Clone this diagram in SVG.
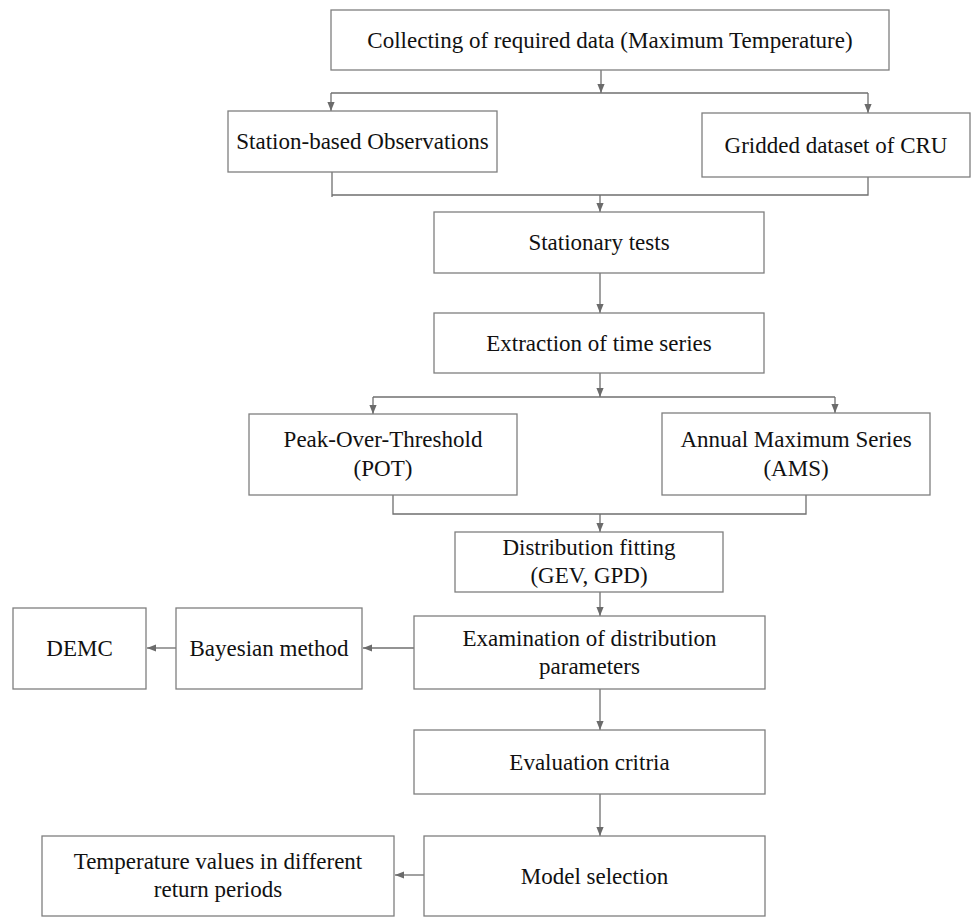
<svg xmlns="http://www.w3.org/2000/svg" width="972" height="917" viewBox="0 0 972 917">
  <defs>
    <marker id="arr" viewBox="0 0 10 8" refX="10" refY="4" markerWidth="9" markerHeight="8" markerUnits="userSpaceOnUse" orient="auto">
      <path d="M0,0 L10,4 L0,8 z" fill="#6b6b6b"/>
    </marker>
    <style>
      .box { fill: #ffffff; stroke: #7f7f7f; stroke-width: 1.3; }
      .lbl { font-family: "Liberation Serif", "Times New Roman", serif; font-size: 23px; fill: #111111; text-anchor: middle; }
      .con { fill: none; stroke: #6f6f6f; stroke-width: 1.3; }
      .arw { fill: none; stroke: #6f6f6f; stroke-width: 1.3; marker-end: url(#arr); }
    </style>
  </defs>
  <rect width="972" height="917" fill="#ffffff"/>

  <g id="connectors">
    <path class="arw" d="M601,70 V93"/>
    <path class="con" d="M331,93 H868"/>
    <path class="arw" d="M331,93 V111"/>
    <path class="arw" d="M868,93 V113"/>

    <path class="con" d="M332,172 V197"/>
    <path class="con" d="M868,177 V195 H332"/>
    <path class="arw" d="M600,195 V212"/>

    <path class="arw" d="M600,273 V313"/>
    <path class="arw" d="M600,373 V397"/>
    <path class="con" d="M373,397 H835"/>
    <path class="arw" d="M373,397 V414"/>
    <path class="arw" d="M835,397 V413"/>

    <path class="con" d="M393,495 V514 H806 V495"/>
    <path class="arw" d="M600,514 V532"/>

    <path class="arw" d="M600,592 V616"/>
    <path class="arw" d="M414,648 H363"/>
    <path class="arw" d="M176,648 H147"/>
    <path class="arw" d="M600,689 V730"/>
    <path class="arw" d="M600,794 V836"/>
    <path class="arw" d="M424,875 H395"/>
  </g>

  <g id="collect">
    <rect class="box" x="331" y="10" width="558" height="60"/>
    <text class="lbl" x="610" y="48">Collecting of required data (Maximum Temperature)</text>
  </g>
  <g id="station">
    <rect class="box" x="228" y="111" width="269" height="61"/>
    <text class="lbl" x="362.5" y="149">Station-based Observations</text>
  </g>
  <g id="gridded">
    <rect class="box" x="702" y="113" width="268" height="64"/>
    <text class="lbl" x="836" y="153">Gridded dataset of CRU</text>
  </g>
  <g id="stationary">
    <rect class="box" x="434" y="212" width="330" height="61"/>
    <text class="lbl" x="599" y="250">Stationary tests</text>
  </g>
  <g id="extraction">
    <rect class="box" x="434" y="313" width="330" height="60"/>
    <text class="lbl" x="599" y="351">Extraction of time series</text>
  </g>
  <g id="pot">
    <rect class="box" x="249" y="414" width="268" height="81"/>
    <text class="lbl" x="383" y="447">Peak-Over-Threshold</text>
    <text class="lbl" x="383" y="476">(POT)</text>
  </g>
  <g id="ams">
    <rect class="box" x="662" y="413" width="268" height="82"/>
    <text class="lbl" x="796" y="447">Annual Maximum Series</text>
    <text class="lbl" x="796" y="476">(AMS)</text>
  </g>
  <g id="distribution">
    <rect class="box" x="455" y="532" width="268" height="60"/>
    <text class="lbl" x="589" y="555">Distribution fitting</text>
    <text class="lbl" x="589" y="583">(GEV, GPD)</text>
  </g>
  <g id="examination">
    <rect class="box" x="414" y="616" width="351" height="73"/>
    <text class="lbl" x="589.5" y="646">Examination of distribution</text>
    <text class="lbl" x="589.5" y="674">parameters</text>
  </g>
  <g id="bayesian">
    <rect class="box" x="176" y="608" width="186" height="81"/>
    <text class="lbl" x="269" y="656">Bayesian method</text>
  </g>
  <g id="demc">
    <rect class="box" x="13" y="608" width="133" height="81"/>
    <text class="lbl" x="79.5" y="656">DEMC</text>
  </g>
  <g id="evaluation">
    <rect class="box" x="414" y="730" width="351" height="64"/>
    <text class="lbl" x="589.5" y="770">Evaluation critria</text>
  </g>
  <g id="model">
    <rect class="box" x="424" y="836" width="341" height="80"/>
    <text class="lbl" x="594.5" y="884">Model selection</text>
  </g>
  <g id="temperature">
    <rect class="box" x="42" y="836" width="352" height="80"/>
    <text class="lbl" x="218" y="869">Temperature values in different</text>
    <text class="lbl" x="218" y="897">return periods</text>
  </g>
</svg>
